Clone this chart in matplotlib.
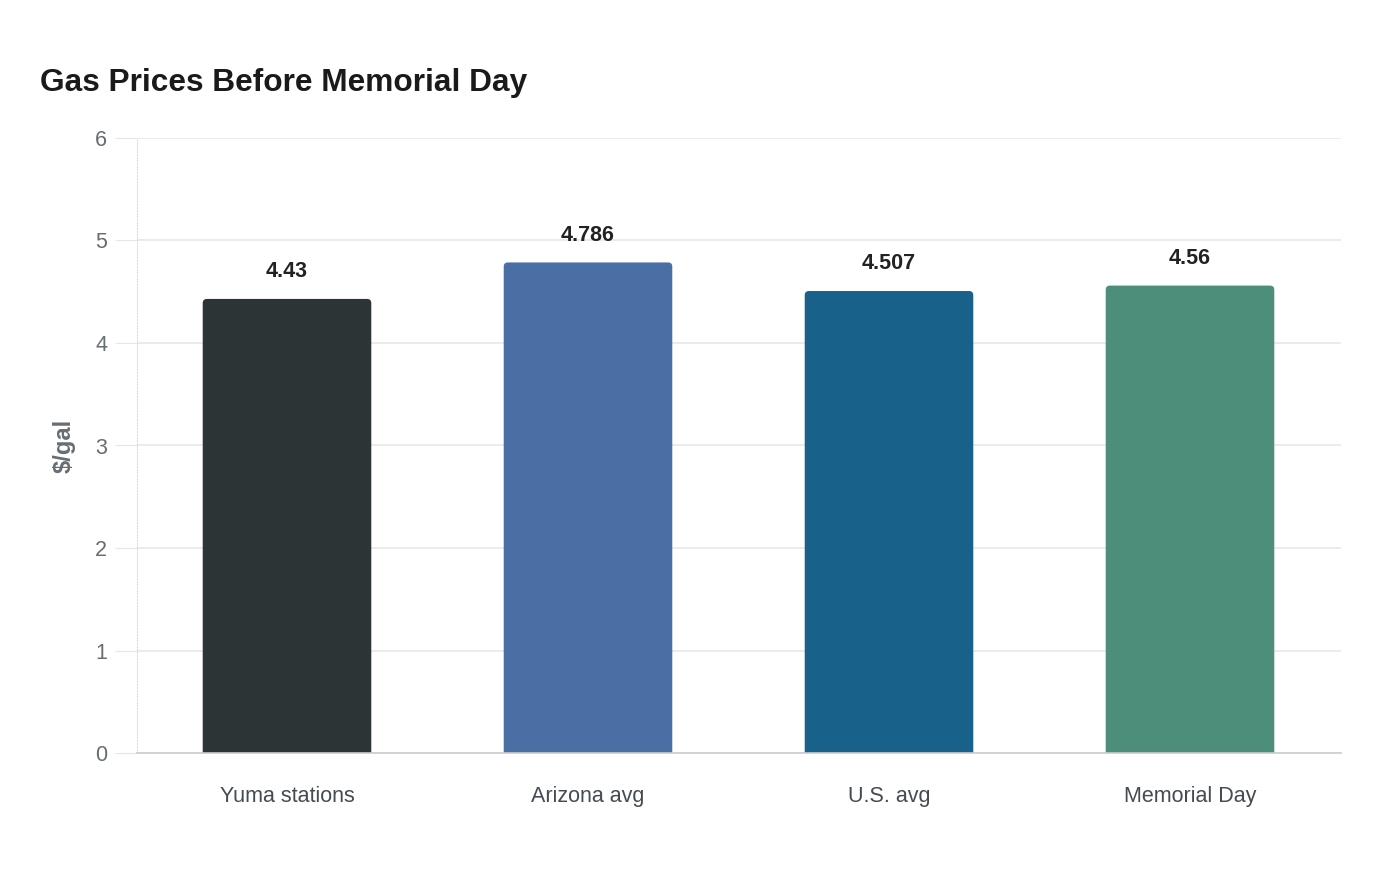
import matplotlib
matplotlib.use('Agg')
import matplotlib.pyplot as plt
from matplotlib.patches import FancyBboxPatch

# data
categories = ['Yuma stations', 'Arizona avg', 'U.S. avg', 'Memorial Day']
prices = [4.43, 4.786, 4.507, 4.56]
colors = ['#2d3436', '#4a6fa5', '#18618a', '#4d8e7a']

plt.rcParams['font.family'] = ['Liberation Sans', 'DejaVu Sans']

fig = plt.figure(figsize=(14, 8.8), dpi=100)
ax = fig.add_axes([0.0975, 0.1443, 0.86, 0.6989])

bars = ax.bar(range(len(categories)), prices, width=0.56, color=colors, zorder=3)

# rounded tops: swap the plain rectangles for rounded boxes,
# the bottom corners go below 0 and get clipped
# 1 x unit ~ 301 px, 1 y unit ~ 102.5 px
r = 0.014
asp = 301 / 102.5
for b in bars:
    x, w, h = b.get_x(), b.get_width(), b.get_height()
    fc = b.get_facecolor()
    b.set_visible(False)
    y0 = -0.3
    p = FancyBboxPatch((x + r, y0 + r * asp), w - 2 * r, h - y0 - 2 * r * asp,
                       boxstyle='round,pad=%f' % r, mutation_aspect=asp,
                       facecolor=fc, edgecolor='none', zorder=3)
    ax.add_patch(p)

for i, v in enumerate(prices):
    ax.annotate(f'{v:g}', (i, v), xytext=(0, 19.5), textcoords='offset points',
                ha='center', va='center', fontsize=15.5, fontweight='bold', color='#222222')

ax.set_xlim(-0.5, 3.5)
ax.set_ylim(0, 6)
ax.set_yticks(range(0, 7))
ax.set_xticks(range(len(categories)))
ax.set_xticklabels(categories, fontsize=15.5, color='#444b52')
ax.tick_params(axis='x', length=0, pad=24)
ax.tick_params(axis='y', length=16, color='#e6e6e6', labelsize=15.5, labelcolor='#666d73', pad=5)
ax.yaxis.grid(True, color='#e8e8e8', linewidth=1.2, zorder=0)

for s in ['top', 'right']:
    ax.spines[s].set_visible(False)
ax.spines['left'].set_color('#dddddd')
ax.spines['left'].set_linestyle(':')
ax.spines['bottom'].set_color('#cccccc')
ax.spines['bottom'].set_linewidth(1.2)
ax.spines['bottom'].set_zorder(4)

ax.set_ylabel('$/gal', fontsize=17, fontweight='bold', color='#666d73', labelpad=14)

fig.text(0.0285, 0.897, 'Gas Prices Before Memorial Day', fontsize=22.8,
         fontweight='bold', color='#1a1a1a', ha='left', va='baseline')

fig.savefig('out.png', dpi=100, facecolor='white')
